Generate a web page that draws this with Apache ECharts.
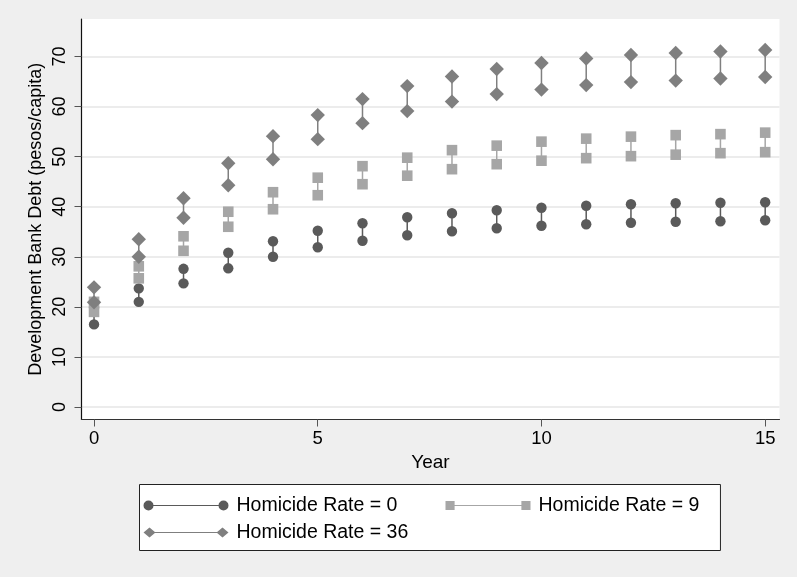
<!DOCTYPE html>
<html lang="en">
<head>
    <meta charset="UTF-8">
    <title>Development Bank Debt</title>
    <script src="https://cdn.jsdelivr.net/npm/echarts@6/dist/echarts.min.js"></script>
    <style>
        html, body { margin: 0; padding: 0; background: #efefef; }
        #main { width: 797px; height: 577px; }
    </style>
</head>
<body>
    <div id="main"></div>
    <script>
        // values
        const years = [0, 1, 2, 3, 4, 5, 6, 7, 8, 9, 10, 11, 12, 13, 14, 15]
        const rate0Low  = [16.5, 21.0, 24.7, 27.7, 30.0, 31.9, 33.2, 34.3, 35.1, 35.7, 36.2, 36.5, 36.8, 37.0, 37.1, 37.3]
        const rate0High = [19.8, 23.7, 27.6, 30.8, 33.1, 35.2, 36.7, 37.9, 38.7, 39.3, 39.8, 40.2, 40.5, 40.7, 40.8, 40.9]
        const rate9Low  = [19.0, 25.7, 31.2, 36.0, 39.5, 42.3, 44.5, 46.2, 47.5, 48.5, 49.2, 49.7, 50.1, 50.4, 50.7, 50.9]
        const rate9High = [21.0, 28.1, 34.1, 39.0, 42.9, 45.8, 48.1, 49.8, 51.3, 52.2, 53.0, 53.6, 54.0, 54.3, 54.5, 54.8]
        const rate36Low  = [20.9, 30.0, 37.8, 44.3, 49.5, 53.5, 56.7, 59.1, 61.0, 62.5, 63.4, 64.3, 64.9, 65.2, 65.6, 65.9]
        const rate36High = [23.9, 33.5, 41.7, 48.7, 54.1, 58.3, 61.5, 64.1, 66.0, 67.5, 68.7, 69.6, 70.3, 70.7, 71.0, 71.3]
        const xTicks = [0, 5, 10, 15]
        const yTicks = [0, 10, 20, 30, 40, 50, 60, 70]

        const FONT = '"Liberation Sans", Arial, Helvetica, sans-serif'

        // legend icons: marker - line - marker
        const icons = {
            circle: 'path://M0,5 A5,5 0 1 1 10,5 A5,5 0 1 1 0,5 Z M9,4.5 L76,4.5 L76,5.5 L9,5.5 Z M75,5 A5,5 0 1 1 85,5 A5,5 0 1 1 75,5 Z',
            square: 'path://M0.5,0.5 L9.5,0.5 L9.5,9.5 L0.5,9.5 Z M9,4.5 L77,4.5 L77,5.5 L9,5.5 Z M75.5,0.5 L84.5,0.5 L84.5,9.5 L75.5,9.5 Z',
            diamond: 'path://M0,5 L6,0 L12,5 L6,10 Z M10,4.5 L75,4.5 L75,5.5 L10,5.5 Z M73,5 L79,0 L85,5 L79,10 Z'
        }

        function zip(lo, hi) {
            return years.map((y, i) => [y, lo[i], hi[i]])
        }

        function marker(kind, p, color) {
            if (kind === 'circle') {
                return { type: 'circle', shape: { cx: p[0], cy: p[1], r: 5.2 }, style: { fill: color } }
            }
            if (kind === 'square') {
                return { type: 'rect', shape: { x: p[0] - 5.3, y: p[1] - 5.3, width: 10.6, height: 10.6 }, style: { fill: color } }
            }
            // diamond
            return {
                type: 'polygon',
                shape: { points: [[p[0] - 7.2, p[1]], [p[0], p[1] - 7.2], [p[0] + 7.2, p[1]], [p[0], p[1] + 7.2]] },
                style: { fill: color }
            }
        }

        function makeSeries(name, kind, color, lo, hi) {
            return {
                type: 'custom',
                name: name,
                coordinateSystem: 'cartesian2d',
                itemStyle: { color: color },
                encode: { x: 0, y: [1, 2] },
                data: zip(lo, hi),
                renderItem: function (params, api) {
                    const x = api.value(0)
                    const pLo = api.coord([x, api.value(1)])
                    const pHi = api.coord([x, api.value(2)])
                    const c = api.visual('color')
                    return {
                        type: 'group',
                        children: [
                            { type: 'line', shape: { x1: pLo[0], y1: pLo[1], x2: pHi[0], y2: pHi[1] }, style: { stroke: c, lineWidth: 1.5 } },
                            marker(kind, pLo, c),
                            marker(kind, pHi, c)
                        ]
                    }
                }
            }
        }

        const chart = echarts.init(document.getElementById('main'))

        chart.setOption({
            backgroundColor: '#efefef',
            animation: false,
            textStyle: { fontFamily: FONT },
            grid: {
                left: 81.5, right: 17.5, top: 19, bottom: 157.5,
                show: true, backgroundColor: '#fff', borderWidth: 0
            },
            xAxis: {
                type: 'value',
                min: -0.28, max: 15.32,
                name: 'Year',
                nameLocation: 'middle',
                nameGap: 34,
                nameTextStyle: { fontSize: 19, color: '#000', fontFamily: FONT },
                axisLine: { show: true, onZero: false, lineStyle: { color: '#333', width: 1.2 } },
                axisTick: { show: true, length: 7, customValues: xTicks, lineStyle: { color: '#555' } },
                axisLabel: { customValues: xTicks, fontSize: 18.5, color: '#000', margin: 10, fontFamily: FONT },
                splitLine: { show: false }
            },
            yAxis: {
                type: 'value',
                min: -2.5, max: 77.5,
                name: 'Development Bank Debt (pesos/capita)',
                nameLocation: 'middle',
                nameGap: 36,
                nameMoveOverlap: false,
                nameTextStyle: { fontSize: 18, color: '#000', fontFamily: FONT },
                axisLine: { show: true, onZero: false, lineStyle: { color: '#111', width: 1.2 } },
                axisTick: { show: true, length: 7, customValues: yTicks, lineStyle: { color: '#555' } },
                axisLabel: { customValues: yTicks, rotate: 90, fontSize: 18, color: '#000', margin: 12, fontFamily: FONT },
                splitLine: { show: true, lineStyle: { color: '#e6e6e6', width: 1.5 } }
            },
            legend: {
                left: 139.5, top: 484.5,
                orient: 'horizontal',
                width: 600,
                itemWidth: 85, itemHeight: 10,
                itemGap: 7,
                padding: [11, 21, 8, 4],
                borderColor: '#222', borderWidth: 1,
                backgroundColor: '#fff',
                selectedMode: false,
                textStyle: { fontSize: 19.5, color: '#000', lineHeight: 18, padding: [0, 0, 0, 3], fontFamily: FONT },
                data: [
                    { name: 'Homicide Rate = 0', icon: icons.circle, textStyle: { width: 202 } },
                    { name: 'Homicide Rate = 9', icon: icons.square },
                    { name: 'Homicide Rate = 36', icon: icons.diamond }
                ]
            },
            series: [
                makeSeries('Homicide Rate = 0', 'circle', '#5a5a5a', rate0Low, rate0High),
                makeSeries('Homicide Rate = 9', 'square', '#a6a6a6', rate9Low, rate9High),
                makeSeries('Homicide Rate = 36', 'diamond', '#7f7f7f', rate36Low, rate36High)
            ]
        })
    </script>
</body>
</html>
